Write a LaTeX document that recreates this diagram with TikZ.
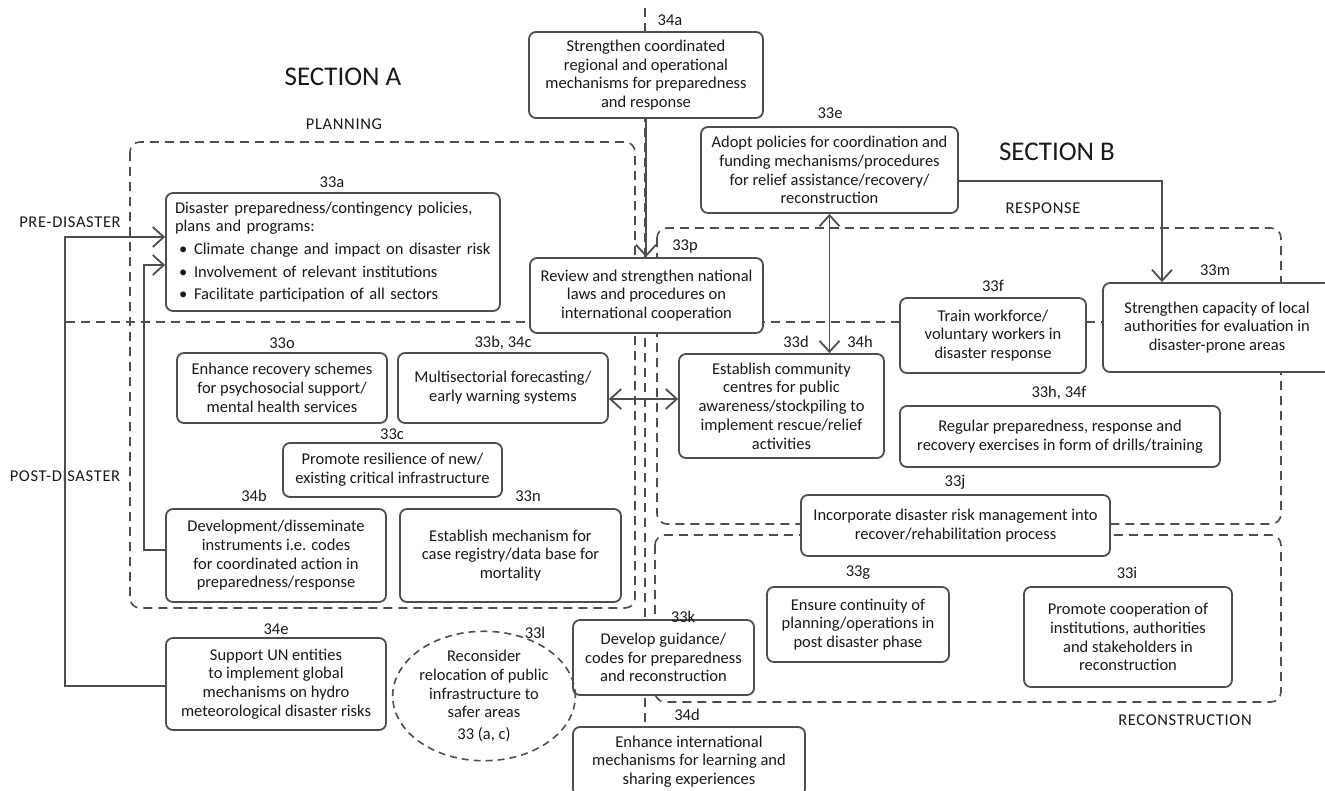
\documentclass[tikz,border=0pt]{standalone}
\usepackage{fontspec}
\setmainfont{Carlito}
\newfontfamily\capsfont[LetterSpace=4]{Carlito}
\usetikzlibrary{arrows.meta,shapes.geometric}
\definecolor{edge}{RGB}{78,78,78}
\definecolor{ink}{RGB}{25,25,25}
\newcommand\diagfont{\fontsize{16.5}{18.7}\selectfont}

\begin{document}
\begin{tikzpicture}[x=1pt,y=-1pt,>={Straight Barb[length=11pt,width=20pt]},
  every node/.style={text=ink,font=\diagfont},
  box/.style={draw=edge,line width=1.8pt,rounded corners=7pt,fill=white,align=center,inner sep=0pt},
  zone/.style={draw=edge,line width=1.6pt,dash pattern=on 9pt off 6pt,rounded corners=10pt},
  phaselabel/.style={font=\capsfont\diagfont,inner sep=0pt},
  sectiontitle/.style={font=\fontsize{27}{30}\selectfont,inner sep=0pt},
  num/.style={inner sep=0pt},
  flow/.style={draw=edge,line width=1.8pt}]

\useasboundingbox (0,0) rectangle (1325,790);

\draw[zone] (645,8) -- (645,727);
\draw[zone] (66,322) -- (1103,322);
\draw[zone] (130,142) rectangle (635,608);
\draw[zone] (657,228) rectangle (1281,524);
\draw[zone] (655,535) rectangle (1281,702);

\node[sectiontitle] at (343,77) {SECTION A};
\node[sectiontitle] at (1057,152) {SECTION B};
\node[phaselabel] at (344,124) {PLANNING};
\node[phaselabel] at (1043,208) {RESPONSE};
\node[phaselabel] at (1185,720) {RECONSTRUCTION};
\node[phaselabel] at (70,222) {PRE-DISASTER};
\node[phaselabel] at (65,476) {POST-DISASTER};

\node[box,minimum width=234pt,minimum height=86pt] (n34a) at (646,75)
  {Strengthen coordinated\\ regional and operational\\ mechanisms for preparedness\\ and response};
\node[box,minimum width=257pt,minimum height=86pt] (n33e) at (829.5,170)
  {Adopt policies for coordination and\\ funding mechanisms/procedures\\ for relief assistance/recovery/\\ reconstruction};
\node[box,align=left,text width=316pt,inner xsep=9pt,minimum height=118pt] (n33a) at (333,252)
  {Disaster preparedness/contingency policies,\\ plans and programs:\\[4pt]
   \hspace*{4pt}\makebox[15pt][l]{\textbullet}Climate change and impact on disaster risk\\[4pt]
   \hspace*{4pt}\makebox[15pt][l]{\textbullet}Involvement of relevant institutions\\[4pt]
   \hspace*{4pt}\makebox[15pt][l]{\textbullet}Facilitate participation of all sectors};
\node[box,minimum width=233pt,minimum height=75pt] (n33p) at (646.5,295.5)
  {Review and strengthen national\\ laws and procedures on\\ international cooperation};
\node[box,minimum width=186pt,minimum height=75pt] (n33f) at (993,335.5)
  {Train workforce/\\ voluntary workers in\\ disaster response};
\node[box,minimum width=228pt,minimum height=89pt] (n33m) at (1217,327.5)
  {Strengthen capacity of local\\ authorities for evaluation in\\ disaster-prone areas};
\node[box,minimum width=210pt,minimum height=70pt] (n33o) at (282,388)
  {Enhance recovery schemes\\ for psychosocial support/\\ mental health services};
\node[box,minimum width=210pt,minimum height=70pt] (n33b) at (503,388)
  {Multisectorial forecasting/\\ early warning systems};
\node[box,minimum width=205pt,minimum height=104pt] (n33d) at (781.5,406)
  {Establish community\\ centres for public\\ awareness/stockpiling to\\ implement rescue/relief\\ activities};
\node[box,minimum width=320pt,minimum height=61pt] (n33h) at (1060,436.5)
  {Regular preparedness, response and\\ recovery exercises in form of drills/training};
\node[box,minimum width=219pt,minimum height=54pt] (n33c) at (392.5,470)
  {Promote resilience of new/\\ existing critical infrastructure};
\node[box,minimum width=309pt,minimum height=61pt] (n33j) at (955.5,525.5)
  {Incorporate disaster risk management into\\ recover/rehabilitation process};
\node[box,minimum width=220pt,minimum height=93pt] (n34b) at (276,555.5)
  {Development/disseminate\\ instruments i.e. codes\\ for coordinated action in\\ preparedness/response};
\node[box,minimum width=221pt,minimum height=93pt] (n33n) at (510.5,555.5)
  {Establish mechanism for\\ case registry/data base for\\ mortality};
\node[box,minimum width=182pt,minimum height=75pt] (n33g) at (858,624.5)
  {Ensure continuity of\\ planning/operations in\\ post disaster phase};
\node[box,minimum width=208pt,minimum height=100pt] (n33i) at (1128,637)
  {Promote cooperation of\\ institutions, authorities\\ and stakeholders in\\ reconstruction};
\node[box,minimum width=181pt,minimum height=75pt] (n33k) at (663.5,657.5)
  {Develop guidance/\\ codes for preparedness\\ and reconstruction};
\node[box,minimum width=220pt,minimum height=92pt] (n34e) at (276,684)
  {Support UN entities\\ to implement global\\ mechanisms on hydro\\ meteorological disaster risks};
\node[ellipse,draw=edge,line width=1.6pt,dash pattern=on 7pt off 5pt,align=center,inner sep=0pt,
  minimum width=156pt,minimum height=118pt] (n33l) at (484,696)
  {Reconsider\\ relocation of public\\ infrastructure to\\ safer areas\\[3pt] 33 (a, c)};
\node[box,minimum width=232pt,minimum height=69pt] (n34d) at (689,761.5)
  {Enhance international\\ mechanisms for learning and\\ sharing experiences};

\node[num] at (670,20) {34a};
\node[num] at (830,113) {33e};
\node[num] at (332,182) {33a};
\node[num] at (685,246) {33p};
\node[num] at (1215,270) {33m};
\node[num] at (993,286) {33f};
\node[num] at (282,343) {33o};
\node[num] at (503,343) {33b, 34c};
\node[num] at (796,342) {33d};
\node[num] at (860,342) {34h};
\node[num] at (1059,393) {33h, 34f};
\node[num] at (392,434) {33c};
\node[num] at (955,482) {33j};
\node[num] at (254,496) {34b};
\node[num] at (528,496) {33n};
\node[num] at (858,573) {33g};
\node[num] at (1127,573) {33i};
\node[num] at (683,617) {33k};
\node[num] at (276,629) {34e};
\node[num] at (535,633) {33l};
\node[num] at (687,715) {34d};

\draw[flow,->] (n34a.south) -- (n34a.south |- n33p.north);
\draw[flow,->] ([yshift=-11pt]n33e.east) -| ([xshift=-55pt]n33m.north);
\draw[flow,<->] (n33e.south) -- (n33e.south |- n33d.north);
\coordinate (warn) at ([yshift=-11pt]n33b.east);
\draw[flow,<->] (warn) -- (warn -| n33d.west);
\draw[flow,->] ([yshift=5.5pt]n34b.west) -- ++(-21,0) |- ([yshift=-13pt]n33a.west);
\draw[flow,->] ([yshift=-2pt]n34e.west) -- ++(-100,0) |- ([yshift=15pt]n33a.west);

\end{tikzpicture}
\end{document}
